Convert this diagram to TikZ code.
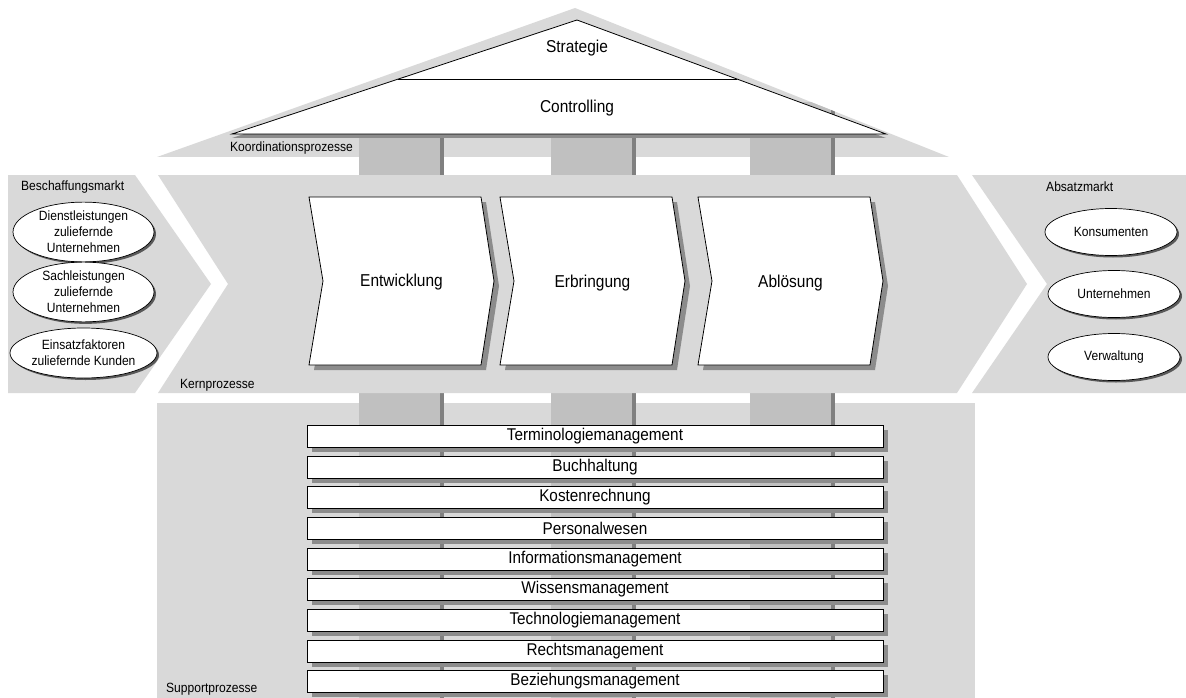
\documentclass[tikz,border=0pt]{standalone}
\usepackage{fontspec}
\setmainfont{Liberation Sans}[FakeStretch=0.9]
\usetikzlibrary{shapes.geometric,shadows}
\definecolor{regiongray}{RGB}{217,217,217}
\definecolor{pillargray}{RGB}{192,192,192}
\definecolor{pillaredge}{RGB}{128,128,128}
\definecolor{shadowgray}{RGB}{140,140,140}
\begin{document}
\begin{tikzpicture}[x=1pt,y=-1pt,
  region/.style={fill=regiongray,draw=none},
  whiteshape/.style={fill=white,draw=black,line width=0.8pt},
  shapeshadow/.style={drop shadow={shadow xshift=5pt,shadow yshift=-5pt,fill=shadowgray,opacity=1}},
  roofshadow/.style={drop shadow={shadow xshift=0pt,shadow yshift=-4pt,fill=shadowgray,opacity=1}},
  ell/.style={ellipse,draw=black,fill=white,line width=0.7pt,minimum width=141pt,minimum height=50pt,
    inner sep=0pt,align=center,font=\fontsize{13.4}{16.2}\selectfont,
    drop shadow={shadow xshift=2pt,shadow yshift=-2pt,fill=black!65,opacity=1}},
  rell/.style={ell,minimum width=132pt,minimum height=47pt},
  bar/.style={rectangle,draw=black,fill=white,line width=0.8pt,minimum width=576pt,minimum height=22pt,
    inner sep=0pt,font=\fontsize{17}{18}\selectfont,
    drop shadow={shadow xshift=5pt,shadow yshift=-5pt,fill=shadowgray,opacity=1}},
  lbl/.style={anchor=west,inner sep=0pt,font=\fontsize{13.4}{15}\selectfont},
  mainlbl/.style={inner sep=0pt,font=\fontsize{17.2}{19}\selectfont}]
\useasboundingbox (0,0) rectangle (1186,698);

% roof outer region
\fill[region] (157,157) -- (575,8) -- (949,157) -- cycle;
% support region
\fill[region] (157,403) rectangle (975,698);
% pillars
\begin{scope}
  \clip (157,157) -- (575,8) -- (949,157) -- (1186,157) -- (1186,698) -- (0,698) -- (0,157) -- cycle;
  \foreach \a in {359,551,750} {
    \fill[pillargray] (\a,102) rectangle (\a+81,698);
    \fill[pillaredge] (\a+81,102) rectangle (\a+85,698);
  }
\end{scope}
% core process region
\fill[region] (158,175) -- (957,175) -- (1027,284) -- (957,393) -- (158,393) -- (228,284) -- cycle;
% market regions
\fill[region] (8,175) -- (135,175) -- (211,284) -- (135,393) -- (8,393) -- cycle;
\fill[region] (972,175) -- (1186,175) -- (1186,393) -- (972,393) -- (1047,284) -- cycle;

% roof white triangle
\filldraw[whiteshape,roofshadow] (232,134) -- (577,20) -- (886,134) -- cycle;
\draw[line width=0.8pt] (398.4,79) -- (736.9,79);
\node[mainlbl] (strat) at (577,48) {Strategie};
\node[mainlbl] (contr) at (577,108) {Controlling};

% chevrons
\foreach \l/\r in {309/481,500/672,698/870} {
  \filldraw[whiteshape,shapeshadow] (\l,197) -- (\r,197) -- (\r+13,281) -- (\r,365) -- (\l,365) -- (\l+14,281) -- cycle;
}
\node[mainlbl] (entw) at (401.5,282) {Entwicklung};
\node[mainlbl] (erbr) at (592.5,283) {Erbringung};
\node[mainlbl] (abl) at (790.5,283) {Ablösung};

% left ellipses
\node[ell] (dl) at (83.5,232) {Dienstleistungen\\zuliefernde\\Unternehmen};
\node[ell] (sl) at (83.5,292) {Sachleistungen\\zuliefernde\\Unternehmen};
\node[ell] (ef) at (83.5,353) {Einsatzfaktoren\\zuliefernde Kunden};
% right ellipses
\node[rell] (kons) at (1111,232) {Konsumenten};
\node[rell] (unt) at (1114,294) {Unternehmen};
\node[rell] (verw) at (1114,357) {Verwaltung};

% support bars
\node[bar] (b1) at (595,436) {Terminologiemanagement};
\node[bar] (b2) at (595,467) {Buchhaltung};
\node[bar] (b3) at (595,497) {Kostenrechnung};
\node[bar] (b4) at (595,528) {Personalwesen};
\node[bar] (b5) at (595,559) {Informationsmanagement};
\node[bar] (b6) at (595,589) {Wissensmanagement};
\node[bar] (b7) at (595,620) {Technologiemanagement};
\node[bar] (b8) at (595,651) {Rechtsmanagement};
\node[bar] (b9) at (595,681) {Beziehungsmanagement};

% region labels
\node[lbl] (lbes) at (21,187) {Beschaffungsmarkt};
\node[lbl] (labs) at (1046,187) {Absatzmarkt};
\node[lbl] (lkoord) at (230,148) {Koordinationsprozesse};
\node[lbl] (lkern) at (180,385) {Kernprozesse};
\node[lbl] (lsupp) at (166,689) {Supportprozesse};
\end{tikzpicture}
\end{document}
